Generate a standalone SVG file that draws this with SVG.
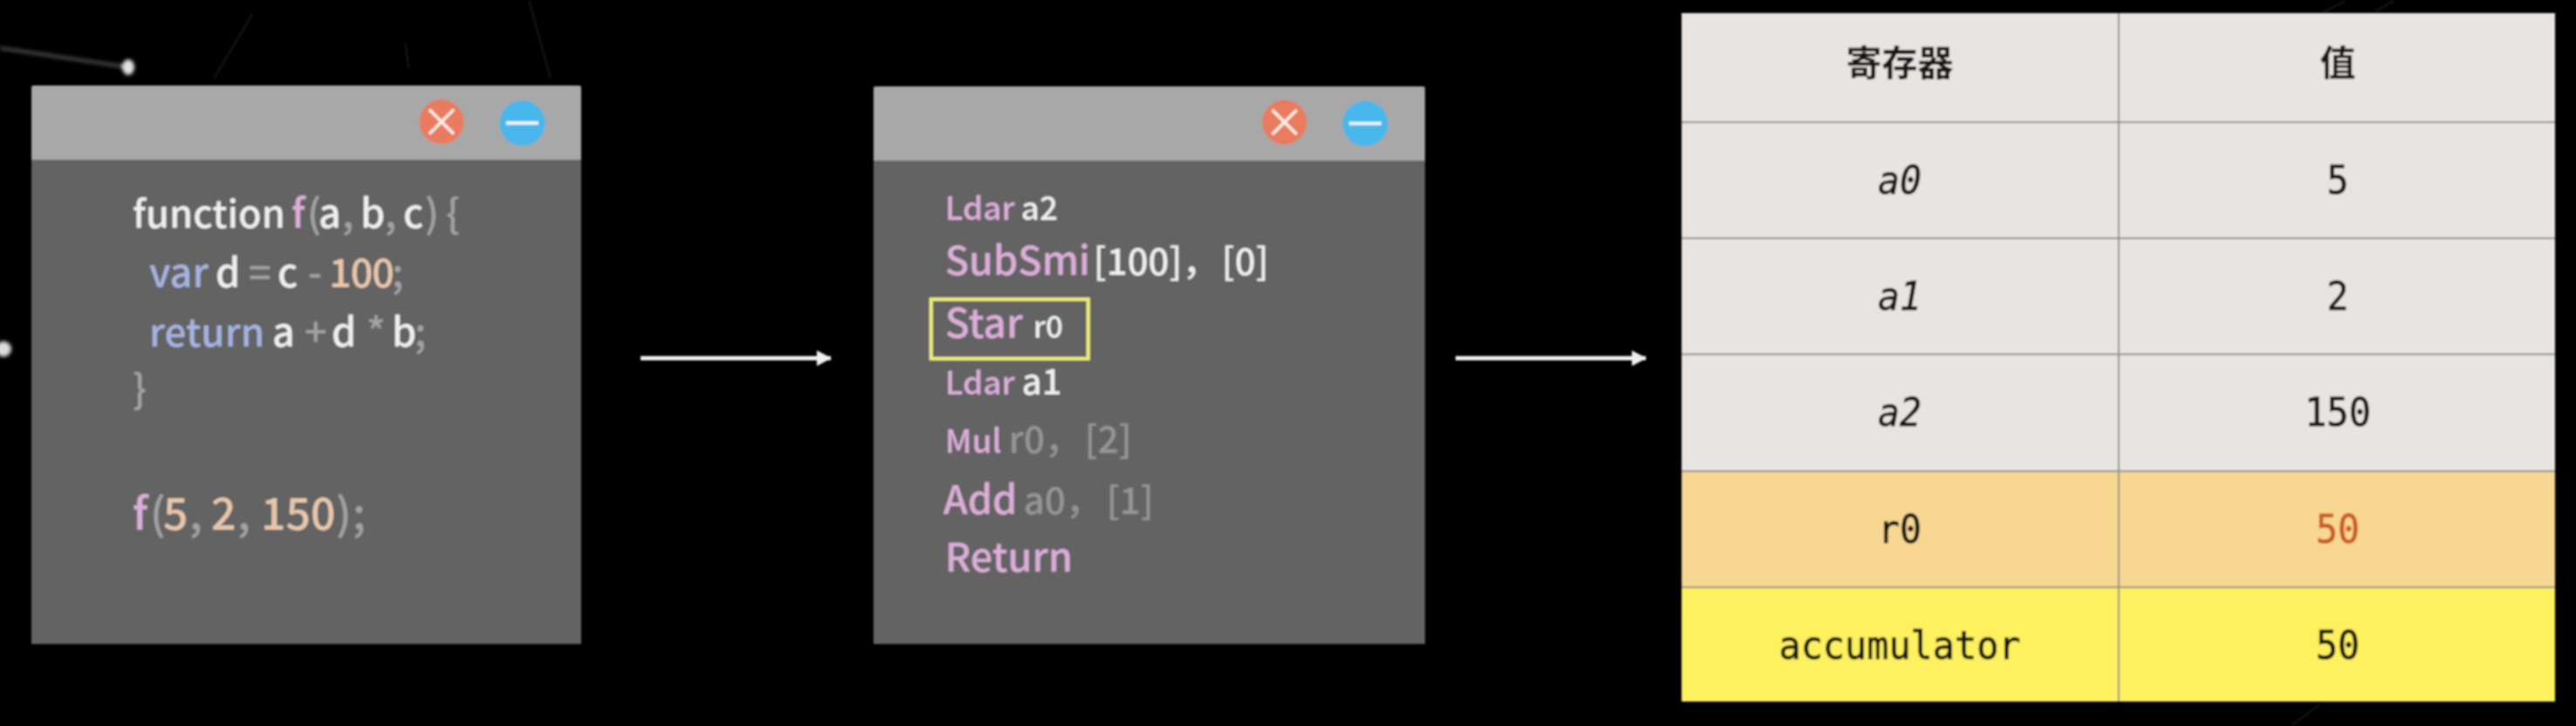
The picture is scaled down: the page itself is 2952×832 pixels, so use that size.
<svg xmlns="http://www.w3.org/2000/svg" width="2952" height="832" viewBox="0 0 2952 832">
<defs>
<filter id="soft" x="-5%" y="-5%" width="110%" height="110%"><feGaussianBlur stdDeviation="0.9"/></filter>
<filter id="blur3" x="-20%" y="-20%" width="140%" height="140%"><feGaussianBlur stdDeviation="2"/></filter>
<marker id="ah" markerUnits="userSpaceOnUse" markerWidth="18" markerHeight="20" refX="16" refY="10" orient="auto"><path d="M0,1 L17,10 L0,19 Z" fill="#efefef"/></marker>
<g id="btns">
<circle cx="0" cy="0" r="25.500" fill="#e97c5f"/>
<path d="M-14,-14 L14,14 M14,-14 L-14,14" stroke="#fbeee8" stroke-width="3.500" fill="none"/>
<circle cx="92.500" cy="1.500" r="26" fill="#4ab6ec"/>
<path d="M74,1.500 H111" stroke="#e9f6fc" stroke-width="4" fill="none"/>
</g>
</defs>
<style>
.body{fill:#636363}
.head{fill:#a8a8a8}
.code{font-family:"Noto Sans CJK SC","Noto Sans",sans-serif;font-weight:500}
.s46{font-size:45px}
.s42{font-size:42px}
.s34{font-size:37px}
.s50{font-size:50px}
.w{fill:#efefef}
.g{fill:#a2a2a2}
.p{fill:#dcaed9}
.b{fill:#a5b3e0}
.o{fill:#e8c6ac}
.d{fill:#959595}
.cell{font-family:"DejaVu Sans Mono","Noto Sans CJK SC",monospace;font-size:45px;fill:#141414;stroke:#141414;stroke-width:0.800;text-anchor:middle}
.cjk{font-family:"Noto Sans CJK SC",sans-serif;font-size:41px;font-weight:700;fill:#141414;text-anchor:middle}
.sep{stroke:#8d8d8b;stroke-width:2;fill:none}
.conn{stroke:#efefef;stroke-width:5;fill:none;marker-end:url(#ah)}
</style>
<rect width="2952" height="832" fill="#000"/>
<g id="background" filter="url(#blur3)">
<path d="M0,55 L147,77" stroke="#444" stroke-width="4" fill="none"/>
<ellipse cx="147" cy="77" rx="7" ry="9" fill="#e4e4e4"/>
<circle cx="4" cy="400" r="9" fill="#dcdcdc"/>
<path d="M290,15 L245,90 M606,0 L631,90 M465,50 L468,78 M2690,0 L2660,15 M2745,0 L2720,14 M2660,806 L2625,832" stroke="#0d0d0d" stroke-width="4" fill="none"/>
</g>
<g filter="url(#soft)">
<g id="window-source">
<rect x="36" y="98" width="630" height="640" class="body"/>
<path d="M36,183 V102 Q36,98 40,98 H662 Q666,98 666,102 V183 Z" class="head"/>
<use href="#btns" x="506" y="139.500"/>
<text class="code s46" y="261"><tspan x="152" class="w" font-size="43.500">function</tspan><tspan x="334" class="p">f</tspan><tspan x="352" class="g">(</tspan><tspan x="365" class="w">a</tspan><tspan x="392" class="g">,</tspan><tspan x="413" class="w">b</tspan><tspan x="441" class="g">,</tspan><tspan x="462" class="w">c</tspan><tspan x="487" class="g">)</tspan><tspan x="511" class="g">{</tspan></text>
<text class="code s46" y="329"><tspan x="171" class="b">var</tspan><tspan x="247" class="w">d</tspan><tspan x="285" class="g">=</tspan><tspan x="318" class="w">c</tspan><tspan x="353" class="g">-</tspan><tspan x="377" class="o" letter-spacing="-1">100</tspan><tspan x="449" class="g">;</tspan></text>
<text class="code s46" y="397"><tspan x="171" class="b" font-size="44">return</tspan><tspan x="312" class="w">a</tspan><tspan x="349" class="g">+</tspan><tspan x="380" class="w">d</tspan><tspan x="420" class="g">*</tspan><tspan x="449" class="w">b</tspan><tspan x="475" class="g">;</tspan></text>
<text class="code s46 g" x="152" y="462">}</text>
<text class="code s50" y="607"><tspan x="152" class="p">f</tspan><tspan x="172" class="g">(</tspan><tspan x="187" class="o">5</tspan><tspan x="217" class="g">,</tspan><tspan x="242" class="o">2</tspan><tspan x="272" class="g">,</tspan><tspan x="299" class="o">150</tspan><tspan x="385" class="g">)</tspan><tspan x="404" class="g">;</tspan></text>
</g>
<g id="window-bytecode">
<rect x="1001" y="99" width="632" height="639" class="body"/>
<path d="M1001,184 V103 Q1001,99 1005,99 H1629 Q1633,99 1633,103 V184 Z" class="head"/>
<use href="#btns" x="1472" y="140"/>
<text class="code s34" y="252"><tspan x="1083" class="p">Ldar</tspan><tspan x="1170" class="w">a2</tspan></text>
<text class="code s46" y="315"><tspan x="1083" class="p">SubSmi</tspan><tspan x="1253" class="w s42">[100]，</tspan><tspan x="1400" class="w s42">[0]</tspan></text>
<rect x="1067" y="343" width="180" height="68" fill="none" stroke="#ecea7c" stroke-width="4"/>
<text class="code" font-size="46" y="387"><tspan x="1083" class="p">Star</tspan><tspan x="1184" class="w" font-size="35">r0</tspan></text>
<text class="code s34" y="452"><tspan x="1083" class="p">Ldar</tspan><tspan x="1171" class="w" font-size="40">a1</tspan></text>
<text class="code s34" y="519"><tspan x="1083" class="p">Mul</tspan><tspan x="1156" class="d s42">r0，</tspan><tspan x="1243" class="d s42">[2]</tspan></text>
<text class="code s46" y="589"><tspan x="1081" class="p">Add</tspan><tspan x="1173" class="d s42">a0，</tspan><tspan x="1268" class="d s42">[1]</tspan></text>
<text class="code s46 p" x="1083" y="655">Return</text>
</g>
<g id="register-table">
<rect x="1927" y="15" width="1001" height="125" fill="#e7e4e1"/>
<rect x="1927" y="140" width="1001" height="400" fill="#e7e4e1"/>
<rect x="1927" y="540" width="1001" height="133" fill="#f7d792"/>
<rect x="1927" y="673" width="1001" height="131" fill="#fef15f"/>
<path class="sep" d="M2428,15 V804 M1927,140 H2928 M1927,273 H2928 M1927,406 H2928 M1927,540 H2928 M1927,673 H2928"/>
<text class="cjk" x="2177" y="87">寄存器</text><text class="cjk" x="2679" y="87">值</text>
<text class="cell" x="2177" y="222" font-style="italic" textLength="50" lengthAdjust="spacingAndGlyphs">a0</text><text class="cell" x="2679" y="222" textLength="25" lengthAdjust="spacingAndGlyphs">5</text>
<text class="cell" x="2177" y="355" font-style="italic" textLength="50" lengthAdjust="spacingAndGlyphs">a1</text><text class="cell" x="2679" y="355" textLength="25" lengthAdjust="spacingAndGlyphs">2</text>
<text class="cell" x="2177" y="488" font-style="italic" textLength="50" lengthAdjust="spacingAndGlyphs">a2</text><text class="cell" x="2679" y="488" textLength="76" lengthAdjust="spacingAndGlyphs">150</text>
<text class="cell" x="2177" y="622" textLength="50" lengthAdjust="spacingAndGlyphs">r0</text><text class="cell" x="2679" y="622" style="fill:#cc5a20;stroke:#cc5a20" textLength="50" lengthAdjust="spacingAndGlyphs">50</text>
<text class="cell" x="2177" y="755" textLength="277" lengthAdjust="spacingAndGlyphs">accumulator</text><text class="cell" x="2679" y="755" textLength="50" lengthAdjust="spacingAndGlyphs">50</text>
</g>
<g id="connectors">
<path class="conn" d="M734,410.500 H952"/>
<path class="conn" d="M1668,410.500 H1886"/>
</g>
</g>
</svg>
